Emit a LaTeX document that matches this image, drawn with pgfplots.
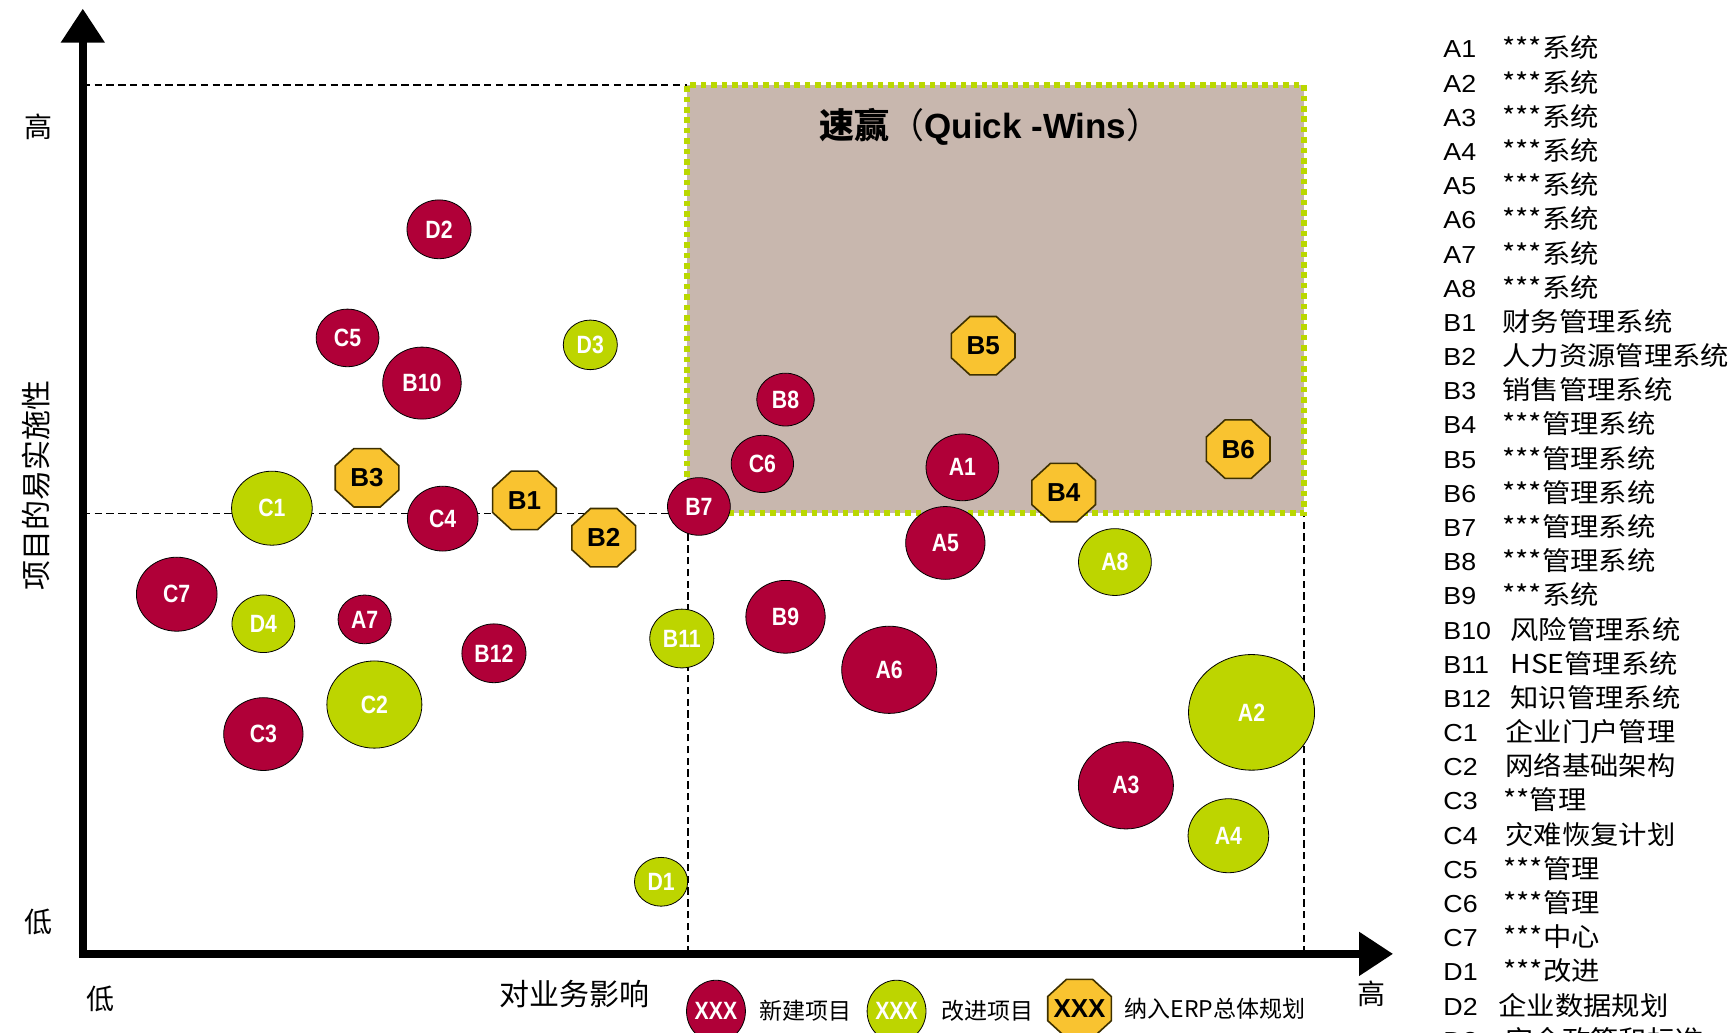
\documentclass[border=0pt]{standalone}
\usepackage{pgfplots}
\usepackage{pgfplotstable}
\pgfplotsset{compat=1.18}
\usepackage{fontspec}
\usepackage{graphicx}
\usetikzlibrary{arrows.meta}
\setmainfont{Liberation Sans}
\newfontfamily\cjk{Noto Sans CJK SC}
\definecolor{newred}{HTML}{B00038}
\definecolor{impgreen}{HTML}{BDD500}
\definecolor{erpyellow}{HTML}{F9C330}
\definecolor{erpborder}{HTML}{3D3000}
\definecolor{qwfill}{HTML}{C8B7AE}
\definecolor{qwborder}{HTML}{BAD800}

\pgfdeclareplotmark{octagon}{%
  \pgfpathmoveto{\pgfpointpolar{22.5}{\pgfplotmarksize}}%
  \pgfpathlineto{\pgfpointpolar{67.5}{\pgfplotmarksize}}%
  \pgfpathlineto{\pgfpointpolar{112.5}{\pgfplotmarksize}}%
  \pgfpathlineto{\pgfpointpolar{157.5}{\pgfplotmarksize}}%
  \pgfpathlineto{\pgfpointpolar{202.5}{\pgfplotmarksize}}%
  \pgfpathlineto{\pgfpointpolar{247.5}{\pgfplotmarksize}}%
  \pgfpathlineto{\pgfpointpolar{292.5}{\pgfplotmarksize}}%
  \pgfpathlineto{\pgfpointpolar{337.5}{\pgfplotmarksize}}%
  \pgfpathclose
  \pgfusepathqfillstroke
}

% new projects (red)
\pgfplotstableread{
x y r lab
29.2 83.4 14.7 D2
21.7 70.9 14.4 C5
27.8 65.7 18.0 B10
29.5 50.1 16.2 C4
50.5 51.5 14.4 B7
55.7 56.4 14.3 C6
57.6 63.8 13.2 B8
72.1 56.0 16.7 A1
70.7 47.3 18.2 A5
7.7 41.4 18.5 C7
23.1 38.5 12.2 A7
33.7 34.6 14.7 B12
57.6 38.8 18.2 B9
66.1 32.7 21.8 A6
14.8 25.3 18.2 C3
85.5 19.4 21.8 A3
}\redtab
% improvement projects (green)
\pgfplotstableread{
x y r lab
41.6 70.1 12.4 D3
15.5 51.3 18.5 C1
84.6 45.1 16.7 A8
14.8 38.0 14.4 D4
49.1 36.3 14.7 B11
23.9 28.7 21.8 C2
95.8 27.8 28.9 A2
93.9 13.6 18.5 A4
47.4 8.3 12.2 D1
}\greentab
% ERP projects (octagons)
\pgfplotstableread{
x y lab
23.3 54.8 B3
36.2 52.2 B1
42.7 47.9 B2
73.8 70.0 B5
80.4 53.1 B4
94.7 58.1 B6
}\erptab
% legend keys
\pgfplotstableread{
x y r lab
51.9 -6.6 15.5 XXX
}\redkey
\pgfplotstableread{
x y r lab
66.7 -6.6 15.5 XXX
}\greenkey
\pgfplotstableread{
x y lab
81.7 -6.3 XXX
}\erpkey

\pgfplotsset{
  bubble/.style={
    scatter, only marks, mark=*,
    scatter/use mapped color={draw=none, fill=#1},
    visualization depends on={\thisrow{r} \as \rad},
    scatter/@pre marker code/.append style={/tikz/mark size=\rad pt},
    mark options={xscale=1.09},
  },
  bubblelabel/.style={
    only marks, mark=none,
    point meta=explicit symbolic,
    nodes near coords={\scalebox{0.85}[1]{\pgfplotspointmeta}},
    every node near coord/.append style={anchor=center, text=white, inner sep=0pt,
       font=\fontsize{12.5}{12.5}\selectfont\bfseries},
  },
  erp/.style={
    only marks, mark=octagon, mark size=15.8pt,
    mark options={fill=erpyellow, draw=erpborder, line width=0.8pt, xscale=1.09},
    point meta=explicit symbolic, nodes near coords,
    every node near coord/.append style={anchor=center, text=black, inner sep=0pt,
       font=\fontsize{13}{13}\selectfont\bfseries},
  },
  qline/.style={black, line width=0.9pt, dash pattern=on 3.7pt off 2.2pt},
}

\begin{document}
\begin{tikzpicture}
\begin{axis}[
  x=6.1pt, y=4.344pt,
  xmin=0, xmax=107.4, ymin=0, ymax=108.8,
  enlargelimits=false,
  axis lines=left,
  axis line style={line width=4pt, line cap=rect, -{Triangle[width=21pt,length=17pt]}},
  xtick=\empty, ytick=\empty,
  clip=false,
]
% quadrant guide lines
\addplot[qline] coordinates {(0,100) (49.5,100)};
\addplot[qline] coordinates {(0,50.7) (49.5,50.7)};
\addplot[qline] coordinates {(49.6,0) (49.6,50.7)};
\addplot[qline] coordinates {(100.1,0) (100.1,50.7)};
% quick wins area
\addplot[fill=qwfill, draw=qwborder, line width=3pt, dash pattern=on 2.8pt off 2.4pt]
  coordinates {(49.5,50.7) (100.1,50.7) (100.1,100) (49.5,100)} -- cycle;

\addplot[bubble=newred] table {\redtab};
\addplot[bubblelabel] table[meta=lab] {\redtab};
\addplot[bubble=impgreen] table {\greentab};
\addplot[bubblelabel] table[meta=lab] {\greentab};
\addplot[erp] table[meta=lab] {\erptab};

% legend keys
\addplot[bubble=newred, mark options={xscale=0.95}] table {\redkey};
\addplot[bubblelabel] table[meta=lab] {\redkey};
\addplot[bubble=impgreen, mark options={xscale=0.95}] table {\greenkey};
\addplot[bubblelabel] table[meta=lab] {\greenkey};
\addplot[erp] table[meta=lab] {\erpkey};
\end{axis}

% title of quick-wins area
\node[font=\fontsize{17.5}{17.5}\selectfont] at (453.8pt,413.6pt)
  {{\cjk\bfseries 速赢}{\cjk （}\textbf{Quick -Wins}{\cjk ）}};

% axis texts
\node[font=\cjk\fontsize{14}{14}\selectfont] at (-22.1pt,413.5pt) {高};
\node[font=\cjk\fontsize{14}{14}\selectfont] at (-22.1pt,16pt) {低};
\node[font=\cjk\fontsize{15}{15}\selectfont, rotate=90] at (-23.4pt,234pt) {项目的易实施性};
\node[font=\cjk\fontsize{14}{14}\selectfont] at (8.9pt,-22.5pt) {低};
\node[font=\cjk\fontsize{15}{15}\selectfont] at (245.6pt,-20pt) {对业务影响};
\node[font=\cjk\fontsize{14}{14}\selectfont] at (644.1pt,-20pt) {高};

% bottom legend texts
\node[font=\cjk\fontsize{11.5}{11.5}\selectfont] at (361.1pt,-28.6pt) {新建项目};
\node[font=\cjk\fontsize{11.5}{11.5}\selectfont] at (452.1pt,-28.6pt) {改进项目};
\node[font=\cjk\fontsize{11.5}{11.5}\selectfont] at (566.1pt,-27.6pt) {纳入ERP总体规划};

% right-hand list
\foreach \code/\desc/\xo [count=\i from 0] in {
 A1/***系统/709.6, A2/***系统/709.6, A3/***系统/709.6, A4/***系统/709.6,
 A5/***系统/709.6, A6/***系统/709.6, A7/***系统/709.6, A8/***系统/709.6,
 B1/财务管理系统/709.6, B2/人力资源管理系统/709.6, B3/销售管理系统/709.6,
 B4/***管理系统/709.6, B5/***管理系统/709.6, B6/***管理系统/709.6,
 B7/***管理系统/709.6, B8/***管理系统/709.6, B9/***系统/709.6,
 B10/风险管理系统/713.6, B11/HSE管理系统/713.6, B12/知识管理系统/713.6,
 C1/企业门户管理/711.1, C2/网络基础架构/711.1, C3/**管理/710.1,
 C4/灾难恢复计划/711.1, C5/***管理/710.1, C6/***管理/710.1, C7/***中心/710.1,
 D1/***改进/710.1, D2/企业数据规划/707.6, D3/安全政策和标准/711.1}{
  \node[anchor=base west, inner sep=0pt, font=\fontsize{12.3}{12}\selectfont]
    at (680.1pt, {447.95pt-\i*17.09pt}) {\scalebox{1.09}[1]{\code}};
  \node[anchor=base west, inner sep=0pt, font=\cjk\fontsize{13}{13}\selectfont]
    at (\xo pt, {447.95pt-\i*17.09pt}) {\scalebox{1.09}[1]{\desc}};
}

\pgfresetboundingbox
\useasboundingbox (-41.4pt,-39.55pt) rectangle (824.1pt,476.95pt);
\end{tikzpicture}
\end{document}
